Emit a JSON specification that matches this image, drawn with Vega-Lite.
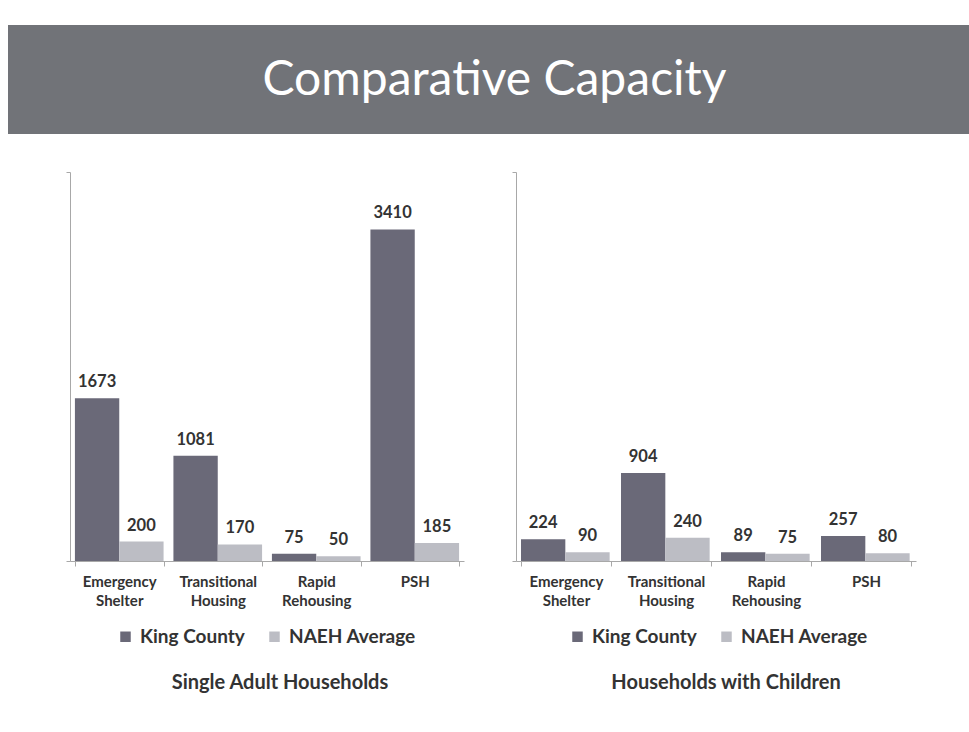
{
  "$schema": "https://vega.github.io/schema/vega-lite/v6.json",
  "background": "white",
  "padding": {"left": 8, "top": 25, "right": 0, "bottom": 0},
  "spacing": 37,
  "datasets": {
    "cap": [
      {"panel": "Single Adult Households", "category": "Emergency Shelter", "series": "King County", "value": 1673},
      {"panel": "Single Adult Households", "category": "Emergency Shelter", "series": "NAEH Average", "value": 200},
      {"panel": "Single Adult Households", "category": "Transitional Housing", "series": "King County", "value": 1081},
      {"panel": "Single Adult Households", "category": "Transitional Housing", "series": "NAEH Average", "value": 170},
      {"panel": "Single Adult Households", "category": "Rapid Rehousing", "series": "King County", "value": 75},
      {"panel": "Single Adult Households", "category": "Rapid Rehousing", "series": "NAEH Average", "value": 50},
      {"panel": "Single Adult Households", "category": "PSH", "series": "King County", "value": 3410},
      {"panel": "Single Adult Households", "category": "PSH", "series": "NAEH Average", "value": 185},
      {"panel": "Households with Children", "category": "Emergency Shelter", "series": "King County", "value": 224},
      {"panel": "Households with Children", "category": "Emergency Shelter", "series": "NAEH Average", "value": 90},
      {"panel": "Households with Children", "category": "Transitional Housing", "series": "King County", "value": 904},
      {"panel": "Households with Children", "category": "Transitional Housing", "series": "NAEH Average", "value": 240},
      {"panel": "Households with Children", "category": "Rapid Rehousing", "series": "King County", "value": 89},
      {"panel": "Households with Children", "category": "Rapid Rehousing", "series": "NAEH Average", "value": 75},
      {"panel": "Households with Children", "category": "PSH", "series": "King County", "value": 257},
      {"panel": "Households with Children", "category": "PSH", "series": "NAEH Average", "value": 80}
    ],
    "header": [{"title": "Comparative Capacity"}]
  },
  "config": {
    "font": "Lato",
    "view": {"stroke": null},
    "axis": {"domainColor": "#a8a8a8", "tickColor": "#a8a8a8", "grid": false, "labelFont": "Lato", "labelFontWeight": "bold", "labelColor": "#333333"},
    "legend": {"labelFont": "Lato", "labelFontWeight": "bold", "labelFontSize": 19, "labelColor": "#333333", "symbolType": "square", "symbolSize": 110, "symbolStrokeWidth": 0, "columnPadding": 20, "labelOffset": 5, "padding": 0, "symbolOffset": 0},
    "title": {"font": "Lato", "fontWeight": "bold", "fontSize": 20, "color": "#333333"}
  },
  "vconcat": [
    {
      "width": 899,
      "height": 109,
      "data": {"name": "header"},
      "view": {"fill": "#717378", "stroke": null},
      "mark": {"type": "text", "color": "white", "fontSize": 48, "font": "Lato", "fontWeight": "normal", "dx": -25, "dy": 1},
      "encoding": {
        "text": {"field": "title", "type": "nominal"},
        "y": {"field": "title", "type": "nominal", "scale": {"paddingInner": 0, "paddingOuter": 0},
              "axis": {"title": null, "labels": false, "ticks": false, "domain": true, "domainColor": "#717378", "domainWidth": 124, "translate": 0, "minExtent": 62}}
      }
    },
    {
      "spacing": 47,
      "resolve": {"scale": {"color": "independent"}, "legend": {"color": "independent"}},
      "hconcat": [
        {
          "width": 394,
          "height": 389,
          "data": {"name": "cap"},
          "transform": [{"filter": "datum.panel == 'Single Adult Households'"}],
          "title": {"text": "Single Adult Households", "orient": "bottom", "anchor": "middle", "offset": 26, "dx": 13},
          "encoding": {
            "x": {"field": "category", "type": "nominal", "sort": ["Emergency Shelter", "Transitional Housing", "Rapid Rehousing", "PSH"],
                  "scale": {"paddingInner": 0.1, "paddingOuter": 0.05},
                  "axis": {"title": null, "labelAngle": 0, "labelFontSize": 15, "labelLineHeight": 19, "labelPadding": 8, "tickBand": "extent", "tickSize": 5, "labelExpr": "split(datum.label, ' ')"}},
            "xOffset": {"field": "series", "type": "nominal", "sort": ["King County", "NAEH Average"], "scale": {"paddingInner": 0, "paddingOuter": 0}},
            "y": {"field": "value", "type": "quantitative", "scale": {"domain": [0, 4000], "nice": false},
                  "axis": {"title": null, "labels": false, "values": [0, 4000], "tickSize": 4, "minExtent": 62}}
          },
          "layer": [
            {"mark": {"type": "bar"},
             "encoding": {"color": {"field": "series", "type": "nominal", "sort": ["King County", "NAEH Average"],
               "scale": {"range": ["#6a6978", "#bcbdc4"]},
               "legend": {"title": null, "orient": "none", "direction": "horizontal", "legendX": 46, "legendY": 455}}}},
            {"mark": {"type": "text", "baseline": "alphabetic", "dy": -11, "fontSize": 16.5, "fontWeight": "bold", "color": "#333333"},
             "encoding": {"text": {"field": "value", "type": "quantitative"}}}
          ]
        },
        {
          "width": 400,
          "height": 389,
          "data": {"name": "cap"},
          "transform": [{"filter": "datum.panel == 'Households with Children'"}],
          "title": {"text": "Households with Children", "orient": "bottom", "anchor": "middle", "offset": 26, "dx": 10},
          "encoding": {
            "x": {"field": "category", "type": "nominal", "sort": ["Emergency Shelter", "Transitional Housing", "Rapid Rehousing", "PSH"],
                  "scale": {"paddingInner": 0.1, "paddingOuter": 0.05},
                  "axis": {"title": null, "labelAngle": 0, "labelFontSize": 15, "labelLineHeight": 19, "labelPadding": 8, "tickBand": "extent", "tickSize": 5, "labelExpr": "split(datum.label, ' ')"}},
            "xOffset": {"field": "series", "type": "nominal", "sort": ["King County", "NAEH Average"], "scale": {"paddingInner": 0, "paddingOuter": 0}},
            "y": {"field": "value", "type": "quantitative", "scale": {"domain": [0, 4000], "nice": false},
                  "axis": {"title": null, "labels": false, "values": [0, 4000], "tickSize": 4, "minExtent": 0}}
          },
          "layer": [
            {"mark": {"type": "bar"},
             "encoding": {"color": {"field": "series", "type": "nominal", "sort": ["King County", "NAEH Average"],
               "scale": {"range": ["#6a6978", "#bcbdc4"]},
               "legend": {"title": null, "orient": "none", "direction": "horizontal", "legendX": 52, "legendY": 455}}}},
            {"mark": {"type": "text", "baseline": "alphabetic", "dy": -11, "fontSize": 16.5, "fontWeight": "bold", "color": "#333333"},
             "encoding": {"text": {"field": "value", "type": "quantitative"}}}
          ]
        }
      ]
    }
  ]
}
